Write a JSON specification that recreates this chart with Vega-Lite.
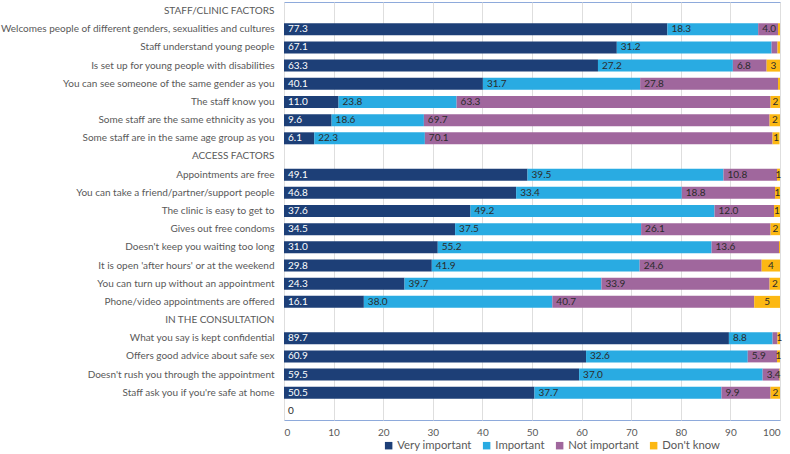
{
  "$schema": "https://vega.github.io/schema/vega-lite/v6.json",
  "width": 496,
  "height": 418,
  "autosize": {"type": "none"},
  "padding": {"left": 284, "top": 2, "right": 10, "bottom": 34},
  "background": "white",
  "config": {
    "font": "Lato",
    "view": {"stroke": "#8eaadb", "strokeWidth": 1}
  },
  "data": {
    "values": [
      {"item": "Welcomes people of different genders, sexualities and cultures", "series": "Very important", "value": 77.3, "label": "77.3"},
      {"item": "Welcomes people of different genders, sexualities and cultures", "series": "Important", "value": 18.3, "label": "18.3"},
      {"item": "Welcomes people of different genders, sexualities and cultures", "series": "Not important", "value": 4.0, "label": "4.0"},
      {"item": "Welcomes people of different genders, sexualities and cultures", "series": "Don't know", "value": 0.4, "label": ""},
      {"item": "Staff understand young people", "series": "Very important", "value": 67.1, "label": "67.1"},
      {"item": "Staff understand young people", "series": "Important", "value": 31.2, "label": "31.2"},
      {"item": "Staff understand young people", "series": "Not important", "value": 1.2, "label": ""},
      {"item": "Staff understand young people", "series": "Don't know", "value": 0.5, "label": ""},
      {"item": "Is set up for young people with disabilities", "series": "Very important", "value": 63.3, "label": "63.3"},
      {"item": "Is set up for young people with disabilities", "series": "Important", "value": 27.2, "label": "27.2"},
      {"item": "Is set up for young people with disabilities", "series": "Not important", "value": 6.8, "label": "6.8"},
      {"item": "Is set up for young people with disabilities", "series": "Don't know", "value": 2.7, "label": "3"},
      {"item": "You can see someone of the same gender as you", "series": "Very important", "value": 40.1, "label": "40.1"},
      {"item": "You can see someone of the same gender as you", "series": "Important", "value": 31.7, "label": "31.7"},
      {"item": "You can see someone of the same gender as you", "series": "Not important", "value": 27.8, "label": "27.8"},
      {"item": "You can see someone of the same gender as you", "series": "Don't know", "value": 0.4, "label": ""},
      {"item": "The staff know you", "series": "Very important", "value": 11.0, "label": "11.0"},
      {"item": "The staff know you", "series": "Important", "value": 23.8, "label": "23.8"},
      {"item": "The staff know you", "series": "Not important", "value": 63.3, "label": "63.3"},
      {"item": "The staff know you", "series": "Don't know", "value": 1.9, "label": "2"},
      {"item": "Some staff are the same ethnicity as you", "series": "Very important", "value": 9.6, "label": "9.6"},
      {"item": "Some staff are the same ethnicity as you", "series": "Important", "value": 18.6, "label": "18.6"},
      {"item": "Some staff are the same ethnicity as you", "series": "Not important", "value": 69.7, "label": "69.7"},
      {"item": "Some staff are the same ethnicity as you", "series": "Don't know", "value": 2.1, "label": "2"},
      {"item": "Some staff are in the same age group as you", "series": "Very important", "value": 6.1, "label": "6.1"},
      {"item": "Some staff are in the same age group as you", "series": "Important", "value": 22.3, "label": "22.3"},
      {"item": "Some staff are in the same age group as you", "series": "Not important", "value": 70.1, "label": "70.1"},
      {"item": "Some staff are in the same age group as you", "series": "Don't know", "value": 1.4, "label": "1"},
      {"item": "Appointments are free", "series": "Very important", "value": 49.1, "label": "49.1"},
      {"item": "Appointments are free", "series": "Important", "value": 39.5, "label": "39.5"},
      {"item": "Appointments are free", "series": "Not important", "value": 10.8, "label": "10.8"},
      {"item": "Appointments are free", "series": "Don't know", "value": 0.6, "label": "1"},
      {"item": "You can take a friend/partner/support people", "series": "Very important", "value": 46.8, "label": "46.8"},
      {"item": "You can take a friend/partner/support people", "series": "Important", "value": 33.4, "label": "33.4"},
      {"item": "You can take a friend/partner/support people", "series": "Not important", "value": 18.8, "label": "18.8"},
      {"item": "You can take a friend/partner/support people", "series": "Don't know", "value": 1.0, "label": "1"},
      {"item": "The clinic is easy to get to", "series": "Very important", "value": 37.6, "label": "37.6"},
      {"item": "The clinic is easy to get to", "series": "Important", "value": 49.2, "label": "49.2"},
      {"item": "The clinic is easy to get to", "series": "Not important", "value": 12.0, "label": "12.0"},
      {"item": "The clinic is easy to get to", "series": "Don't know", "value": 1.2, "label": "1"},
      {"item": "Gives out free condoms", "series": "Very important", "value": 34.5, "label": "34.5"},
      {"item": "Gives out free condoms", "series": "Important", "value": 37.5, "label": "37.5"},
      {"item": "Gives out free condoms", "series": "Not important", "value": 26.1, "label": "26.1"},
      {"item": "Gives out free condoms", "series": "Don't know", "value": 1.9, "label": "2"},
      {"item": "Doesn't keep you waiting too long", "series": "Very important", "value": 31.0, "label": "31.0"},
      {"item": "Doesn't keep you waiting too long", "series": "Important", "value": 55.2, "label": "55.2"},
      {"item": "Doesn't keep you waiting too long", "series": "Not important", "value": 13.6, "label": "13.6"},
      {"item": "Doesn't keep you waiting too long", "series": "Don't know", "value": 0.2, "label": ""},
      {"item": "It is open 'after hours' or at the weekend", "series": "Very important", "value": 29.8, "label": "29.8"},
      {"item": "It is open 'after hours' or at the weekend", "series": "Important", "value": 41.9, "label": "41.9"},
      {"item": "It is open 'after hours' or at the weekend", "series": "Not important", "value": 24.6, "label": "24.6"},
      {"item": "It is open 'after hours' or at the weekend", "series": "Don't know", "value": 3.7, "label": "4"},
      {"item": "You can turn up without an appointment", "series": "Very important", "value": 24.3, "label": "24.3"},
      {"item": "You can turn up without an appointment", "series": "Important", "value": 39.7, "label": "39.7"},
      {"item": "You can turn up without an appointment", "series": "Not important", "value": 33.9, "label": "33.9"},
      {"item": "You can turn up without an appointment", "series": "Don't know", "value": 2.1, "label": "2"},
      {"item": "Phone/video appointments are offered", "series": "Very important", "value": 16.1, "label": "16.1"},
      {"item": "Phone/video appointments are offered", "series": "Important", "value": 38.0, "label": "38.0"},
      {"item": "Phone/video appointments are offered", "series": "Not important", "value": 40.7, "label": "40.7"},
      {"item": "Phone/video appointments are offered", "series": "Don't know", "value": 5.2, "label": "5"},
      {"item": "What you say is kept confidential", "series": "Very important", "value": 89.7, "label": "89.7"},
      {"item": "What you say is kept confidential", "series": "Important", "value": 8.8, "label": "8.8"},
      {"item": "What you say is kept confidential", "series": "Not important", "value": 1.0, "label": "1"},
      {"item": "What you say is kept confidential", "series": "Don't know", "value": 0.5, "label": ""},
      {"item": "Offers good advice about safe sex", "series": "Very important", "value": 60.9, "label": "60.9"},
      {"item": "Offers good advice about safe sex", "series": "Important", "value": 32.6, "label": "32.6"},
      {"item": "Offers good advice about safe sex", "series": "Not important", "value": 5.9, "label": "5.9"},
      {"item": "Offers good advice about safe sex", "series": "Don't know", "value": 0.6, "label": "1"},
      {"item": "Doesn't rush you through the appointment", "series": "Very important", "value": 59.5, "label": "59.5"},
      {"item": "Doesn't rush you through the appointment", "series": "Important", "value": 37.0, "label": "37.0"},
      {"item": "Doesn't rush you through the appointment", "series": "Not important", "value": 3.4, "label": "3.4"},
      {"item": "Doesn't rush you through the appointment", "series": "Don't know", "value": 0.1, "label": ""},
      {"item": "Staff ask you if you're safe at home", "series": "Very important", "value": 50.5, "label": "50.5"},
      {"item": "Staff ask you if you're safe at home", "series": "Important", "value": 37.7, "label": "37.7"},
      {"item": "Staff ask you if you're safe at home", "series": "Not important", "value": 9.9, "label": "9.9"},
      {"item": "Staff ask you if you're safe at home", "series": "Don't know", "value": 1.9, "label": "2"},
      {"item": " ", "series": "Very important", "value": 0, "label": "0"}
    ]
  },
  "transform": [
    {"calculate": "indexof(['Very important','Important','Not important',\"Don't know\"], datum.series)", "as": "sorder"},
    {"stack": "value", "groupby": ["item"], "sort": [{"field": "sorder", "order": "ascending"}], "as": ["v0", "v1"]},
    {"calculate": "(datum.v0 + datum.v1) / 2", "as": "vm"}
  ],
  "encoding": {
    "y": {
      "field": "item",
      "type": "nominal",
      "title": null,
      "scale": {
        "domain": [
          "STAFF/CLINIC FACTORS",
          "Welcomes people of different genders, sexualities and cultures",
          "Staff understand young people",
          "Is set up for young people with disabilities",
          "You can see someone of the same gender as you",
          "The staff know you",
          "Some staff are the same ethnicity as you",
          "Some staff are in the same age group as you",
          "ACCESS FACTORS",
          "Appointments are free",
          "You can take a friend/partner/support people",
          "The clinic is easy to get to",
          "Gives out free condoms",
          "Doesn't keep you waiting too long",
          "It is open 'after hours' or at the weekend",
          "You can turn up without an appointment",
          "Phone/video appointments are offered",
          "IN THE CONSULTATION",
          "What you say is kept confidential",
          "Offers good advice about safe sex",
          "Doesn't rush you through the appointment",
          "Staff ask you if you're safe at home",
          " "
        ],
        "paddingInner": 0.34,
        "paddingOuter": 0.17
      },
      "axis": {
        "domain": false,
        "ticks": false,
        "labelPadding": 10,
        "labelColor": "#595959",
        "labelFontSize": 10,
        "labelLimit": 400
      }
    }
  },
  "layer": [
    {
      "mark": {"type": "bar"},
      "encoding": {
        "x": {
          "field": "v0",
          "type": "quantitative",
          "title": null,
          "scale": {"domain": [0, 100], "nice": false},
          "axis": {
            "values": [0, 10, 20, 30, 40, 50, 60, 70, 80, 90, 100],
            "grid": true,
            "gridColor": "#dedede",
            "domain": false,
            "ticks": false,
            "labelColor": "#595959",
            "labelFontSize": 10,
            "labelPadding": 7
          }
        },
        "x2": {"field": "v1"},
        "color": {
          "field": "series",
          "type": "nominal",
          "sort": ["Very important", "Important", "Not important", "Don't know"],
          "scale": {
            "domain": ["Very important", "Important", "Not important", "Don't know"],
            "range": ["#1d3f77", "#29abe2", "#a0679d", "#fcb813"]
          },
          "legend": {
            "orient": "none",
            "legendX": 99,
            "legendY": 438,
            "direction": "horizontal",
            "title": null,
            "symbolType": "square",
            "symbolSize": 56,
            "symbolStrokeWidth": 0,
            "labelFontSize": 11.3,
            "labelColor": "#595959",
            "columnPadding": 9,
            "labelOffset": 3
          }
        }
      }
    },
    {
      "transform": [{"filter": "datum.label != '' && datum.series != \"Don't know\""}],
      "mark": {"type": "text", "align": "left", "baseline": "middle", "dx": 4, "fontSize": 10},
      "encoding": {
        "x": {"field": "v0", "type": "quantitative"},
        "text": {"field": "label"},
        "color": {
          "condition": {"test": "datum.series == 'Very important' && datum.value > 0", "value": "#ffffff"},
          "value": "#2b2b2b"
        }
      }
    },
    {
      "transform": [{"filter": "datum.label != '' && datum.series == \"Don't know\""}],
      "mark": {"type": "text", "align": "center", "baseline": "middle", "fontSize": 10, "color": "#2b2b2b"},
      "encoding": {
        "x": {"field": "vm", "type": "quantitative"},
        "text": {"field": "label"}
      }
    }
  ]
}
